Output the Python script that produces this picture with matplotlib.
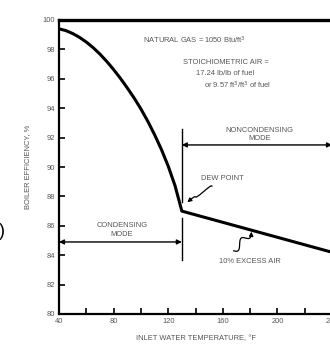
import numpy as np
import matplotlib
matplotlib.use("Agg")
import matplotlib.pyplot as plt

# ---- data ----
cond_temp = [40, 45, 50, 55, 60, 65, 70, 75, 80, 85, 90, 95, 100, 105, 110, 115, 120, 125, 130]
cond_eff = [99.4, 99.28, 99.08, 98.82, 98.5, 98.12, 97.68, 97.18, 96.63, 96.03, 95.38, 94.7,
            93.95, 93.12, 92.2, 91.2, 90.06, 88.73, 87.0]
noncond_temp = [130, 240]
noncond_eff = [87.0, 84.2]
x_ticks = [40, 60, 80, 100, 120, 140, 160, 180, 200, 220, 240]
x_ticklabels = ["40", "", "80", "", "120", "", "160", "", "200", "", "240"]
y_ticks = [80, 82, 84, 86, 88, 90, 92, 94, 96, 98, 100]
dew_point_temp = 130

plt.rcParams['font.family'] = ['Liberation Sans', 'DejaVu Sans']
TXT = '#555555'
FS = 5.4

fig = plt.figure(figsize=(3.30, 3.44), dpi=100)
ax = fig.add_axes([59/330, 30/344, 273/330, 294/344])

ax.plot(cond_temp + noncond_temp[1:], cond_eff + noncond_eff[1:], color='black', lw=2.2,
        solid_joinstyle='round', zorder=3)

ax.set_xlim(40, 240)
ax.set_ylim(80, 100)
ax.set_xticks(x_ticks)
ax.set_xticklabels(x_ticklabels)
ax.set_yticks(y_ticks)
ax.tick_params(direction='in', length=4, width=1.2, labelsize=FS, colors='black',
               labelcolor=TXT, pad=3)
for s in ['left', 'bottom']:
    ax.spines[s].set_linewidth(1.6)
ax.spines['top'].set_linewidth(2.4)
ax.spines['right'].set_visible(False)

ax.set_xlabel("INLET WATER TEMPERATURE, °F", fontsize=FS, color=TXT, labelpad=7)
ax.set_ylabel("BOILER EFFICIENCY, %", fontsize=FS, color=TXT, labelpad=8)

# vertical dew point divider
ax.plot([dew_point_temp, dew_point_temp], [92.6, 87.6], color='black', lw=1.0)
ax.plot([dew_point_temp, dew_point_temp], [86.5, 83.7], color='black', lw=1.0)

# mode arrows
ax.annotate('', xy=(240, 91.5), xytext=(dew_point_temp, 91.5),
            arrowprops=dict(arrowstyle='<|-|>', color='black', lw=1.0,
                            mutation_scale=7, shrinkA=0, shrinkB=0), annotation_clip=False)
ax.annotate('', xy=(dew_point_temp, 84.9), xytext=(40, 84.9),
            arrowprops=dict(arrowstyle='<|-|>', color='black', lw=1.0,
                            mutation_scale=7, shrinkA=0, shrinkB=0))
ax.text(187, 91.7, "NONCONDENSING\nMODE", fontsize=FS, color=TXT, ha='center', va='bottom',
        linespacing=1.25)
ax.text(86, 85.2, "CONDENSING\nMODE", fontsize=FS, color=TXT, ha='center', va='bottom',
        linespacing=1.25)

# top notes
ax.text(139, 98.6, "NATURAL GAS = 1050 Btu/ft$^3$", fontsize=FS, color=TXT, ha='center', va='center')
ax.text(162, 97.1, "STOICHIOMETRIC AIR =", fontsize=FS, color=TXT, ha='center', va='center')
ax.text(162, 96.35, "17.24 lb/lb of fuel", fontsize=FS, color=TXT, ha='center', va='center')
ax.text(171, 95.55, "or 9.57 ft$^3$/ft$^3$ of fuel", fontsize=FS, color=TXT, ha='center', va='center')

# dew point label with squiggle
ax.text(144, 89.2, "DEW POINT", fontsize=FS, color=TXT, ha='left', va='center')
t = np.linspace(0, 1, 60)
x0, y0, x1, y1 = 152, 88.7, 134, 87.6
sx = x0 + (x1 - x0) * t + 1.5 * np.sin(t * 2 * np.pi * 1.5)
sy = y0 + (y1 - y0) * t + 0.15 * np.sin(t * 2 * np.pi * 1.5)
ax.plot(sx[:-3], sy[:-3], color='black', lw=0.9)
ax.annotate('', xy=(x1, y1), xytext=(sx[-4], sy[-4]),
            arrowprops=dict(arrowstyle='-|>', color='black', lw=0.9, mutation_scale=6,
                            shrinkA=0, shrinkB=0))

# 10% excess air label with squiggle
ax.text(157, 83.6, "10% EXCESS AIR", fontsize=FS, color=TXT, ha='left', va='center')
x0, y0, x1, y1 = 168, 84.3, 181, 85.6
sx = x0 + (x1 - x0) * t + 1.2 * np.sin(t * 2 * np.pi * 1.5)
sy = y0 + (y1 - y0) * t - 0.2 * np.sin(t * 2 * np.pi * 1.5)
ax.plot(sx[:-3], sy[:-3], color='black', lw=0.9)
ax.annotate('', xy=(x1, y1), xytext=(sx[-4], sy[-4]),
            arrowprops=dict(arrowstyle='-|>', color='black', lw=0.9, mutation_scale=6,
                            shrinkA=0, shrinkB=0))

# cropped fragment at left edge
fig.text(-0.004, 1 - 232/344, ")", fontsize=13, color='black', ha='left', va='center')

fig.savefig("out.png", dpi=100)
